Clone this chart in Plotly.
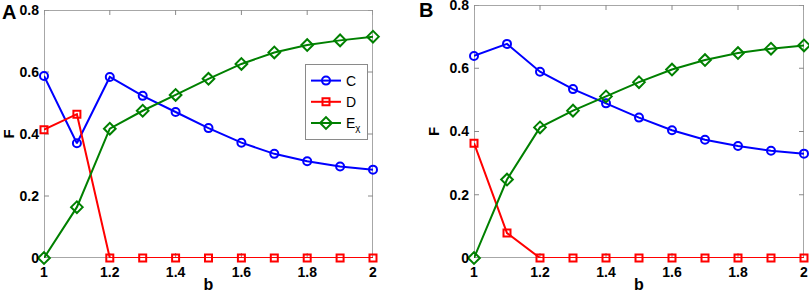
import plotly.graph_objects as go

b_values = [1.0, 1.1, 1.2, 1.3, 1.4, 1.5, 1.6, 1.7, 1.8, 1.9, 2.0]

# Panel A
A_C = [0.587, 0.370, 0.584, 0.523, 0.471, 0.419, 0.372, 0.336, 0.312, 0.295, 0.285]
A_D = [0.414, 0.464, 0, 0, 0, 0, 0, 0, 0, 0, 0]
A_E = [0.0, 0.164, 0.417, 0.475, 0.526, 0.578, 0.626, 0.663, 0.687, 0.702, 0.714]

# Panel B
B_C = [0.639, 0.677, 0.589, 0.534, 0.489, 0.444, 0.404, 0.374, 0.354, 0.339, 0.330]
B_D = [0.363, 0.079, 0, 0, 0, 0, 0, 0, 0, 0, 0]
B_E = [0.0, 0.248, 0.413, 0.466, 0.511, 0.556, 0.596, 0.626, 0.648, 0.662, 0.672]

x_ticks = [1, 1.2, 1.4, 1.6, 1.8, 2]
x_tick_labels = ["1", "1.2", "1.4", "1.6", "1.8", "2"]
y_ticks = [0, 0.2, 0.4, 0.6, 0.8]
y_tick_labels = ["0", "0.2", "0.4", "0.6", "0.8"]
x_range = [1, 2]
y_range = [0, 0.8]

series_names = ["C", "D", "E<sub>χ</sub>"]
colors = ["#0000FF", "#FF0000", "#008000"]
symbols = ["circle-open", "square-open", "diamond-open"]
sizes = [8, 7, 9]

W, H = 809, 293
def px(x):
    return x / W
def py(y):
    return 1 - y / H

font_family = "Liberation Sans, Arial, sans-serif"
bold = lambda s: "<b>" + s + "</b>"
frame_color = "#8a8a8a"

panel_px = [("x", "y", 44, 373, 10, 258), ("x2", "y2", 474, 804, 5, 258)]

fig = go.Figure()

# Frame and inward ticks, derived from the axis ranges and tick arrays
for xa, ya, xl, xr, yt_, yb in panel_px:
    x0, x1 = x_range
    y0, y1 = y_range
    fig.add_trace(go.Scatter(x=[x0, x1, x1, x0, x0], y=[y0, y0, y1, y1, y0],
                             xaxis=xa, yaxis=ya, mode="lines", showlegend=False,
                             hoverinfo="skip", cliponaxis=False,
                             line=dict(color=frame_color, width=1.5)))
    dy = (y1 - y0) * 5 / (yb - yt_)
    dx = (x1 - x0) * 5 / (xr - xl)
    tx, ty = [], []
    for v in x_ticks:
        tx += [v, v, None, v, v, None]
        ty += [y0, y0 + dy, None, y1, y1 - dy, None]
    for v in y_ticks:
        tx += [x0, x0 + dx, None, x1, x1 - dx, None]
        ty += [v, v, None, v, v, None]
    fig.add_trace(go.Scatter(x=tx, y=ty, xaxis=xa, yaxis=ya, mode="lines",
                             showlegend=False, hoverinfo="skip", cliponaxis=False,
                             line=dict(color=frame_color, width=1)))

panels = [
    ("x", "y", [A_C, A_D, A_E], True),
    ("x2", "y2", [B_C, B_D, B_E], False),
]
for xa, ya, data, show in panels:
    for i, vals in enumerate(data):
        fig.add_trace(go.Scatter(
            x=b_values, y=vals, xaxis=xa, yaxis=ya,
            mode="lines+markers", name=series_names[i],
            showlegend=show, cliponaxis=False,
            line=dict(color=colors[i], width=2),
            marker=dict(symbol=symbols[i], size=sizes[i], color=colors[i],
                        line=dict(color=colors[i], width=2)),
        ))

axis_common = dict(
    showline=False, ticks="", ticklabelstandoff=4,
    showgrid=False, zeroline=False, automargin=False,
    ticklabeloverflow="allow",
    tickfont=dict(family=font_family, size=14, color="black"),
)

xt = [bold(s) for s in x_tick_labels]
yt = [bold(s) for s in y_tick_labels]

fig.update_layout(
    width=W, height=H,
    margin=dict(l=0, r=0, t=0, b=0, autoexpand=False),
    paper_bgcolor="white", plot_bgcolor="white",
    font=dict(family=font_family, size=14, color="black"),
    xaxis=dict(domain=[px(44), px(373)], range=x_range, anchor="y",
               tickvals=x_ticks, ticktext=xt,
               title=dict(text="<b>b</b>", font=dict(size=16), standoff=0),
               **axis_common),
    yaxis=dict(domain=[py(258), py(10)], range=y_range, anchor="x",
               tickvals=y_ticks, ticktext=yt,
               title=dict(text="<b>F</b>", font=dict(size=15), standoff=6),
               **axis_common),
    xaxis2=dict(domain=[px(474), px(804)], range=x_range, anchor="y2",
                tickvals=x_ticks, ticktext=xt,
                title=dict(text="<b>b</b>", font=dict(size=16), standoff=0),
                **axis_common),
    yaxis2=dict(domain=[py(258), py(5)], range=y_range, anchor="x2",
                tickvals=y_ticks, ticktext=yt,
                title=dict(text="<b>F</b>", font=dict(size=15), standoff=6),
                **axis_common),
    legend=dict(x=px(305), y=py(64), xanchor="left", yanchor="top",
                bgcolor="white", bordercolor=frame_color, borderwidth=1,
                font=dict(family=font_family, size=14, color="black"),
                tracegroupgap=0, itemwidth=30),
    showlegend=True,
    annotations=[
        dict(text="<b>A</b>", x=px(0), y=py(12), xref="paper", yref="paper",
             xanchor="left", yanchor="middle", showarrow=False,
             font=dict(family=font_family, size=20, color="black")),
        dict(text="<b>B</b>", x=px(417), y=py(10), xref="paper", yref="paper",
             xanchor="left", yanchor="middle", showarrow=False,
             font=dict(family=font_family, size=20, color="black")),
    ],
)

fig.write_html("out.html", config={"displayModeBar": False},
               post_script="document.body.style.margin='0';document.body.style.padding='0';")
